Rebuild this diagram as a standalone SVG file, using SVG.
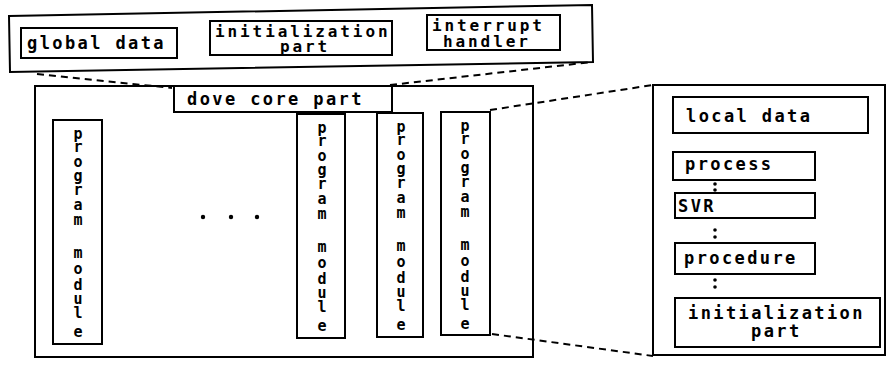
<svg xmlns="http://www.w3.org/2000/svg" width="888" height="369" viewBox="0 0 888 369">
<style>
.box{fill:none;stroke:#000;stroke-width:2}
.t{font-family:"DejaVu Sans Mono","Liberation Mono",monospace;font-weight:bold;font-size:17px;letter-spacing:2.4px;fill:#000}
.t2{font-family:"DejaVu Sans Mono","Liberation Mono",monospace;font-weight:bold;font-size:16px;letter-spacing:2.9px;fill:#000}
.v{font-family:"DejaVu Sans Mono","Liberation Mono",monospace;font-weight:bold;font-size:15px;fill:#000;text-anchor:middle}
.dash{fill:none;stroke:#000;stroke-width:2;stroke-dasharray:7 5}
</style>
<rect width="888" height="369" fill="#fff"/>
<g id="top-box">
<polygon class="box" points="9,16 592,5 593,62 10,72"/>
</g>
<g id="global-data">
<rect class="box" x="21" y="28" width="156" height="30"/>
<text class="t" x="27" y="49">global data</text>
</g>
<g id="initialization-part-top">
<rect class="box" x="210" y="21" width="182" height="34"/>
<text class="t2" x="215" y="37">initialization</text>
<text class="t2" x="280" y="52">part</text>
</g>
<g id="interrupt-handler">
<rect class="box" x="427" y="15" width="133" height="35"/>
<text class="t2" x="432" y="31">interrupt</text>
<text class="t2" x="443" y="47">handler</text>
</g>
<g id="main-box">
<rect class="box" x="35" y="86" width="498" height="271"/>
</g>
<g id="dove-core-part">
<rect class="box" x="174" y="86" width="218" height="26"/>
<text class="t" x="187" y="105">dove core part</text>
</g>
<g id="program-module-1">
<rect class="box" x="53" y="120" width="49" height="224"/>
<text class="v"><tspan x="78" y="139">p</tspan><tspan x="78" y="152">r</tspan><tspan x="78" y="167">o</tspan><tspan x="78" y="181">g</tspan><tspan x="78" y="195">r</tspan><tspan x="78" y="210">a</tspan><tspan x="78" y="225">m</tspan><tspan x="78" y="258">m</tspan><tspan x="78" y="274">o</tspan><tspan x="78" y="290">d</tspan><tspan x="78" y="304">u</tspan><tspan x="78" y="318">l</tspan><tspan x="78" y="337">e</tspan></text>
</g>
<g id="ellipsis">
<circle cx="203" cy="217" r="2.2"/>
<circle cx="231" cy="217" r="2.2"/>
<circle cx="257" cy="217" r="2.2"/>
</g>
<g id="program-module-2">
<rect class="box" x="297" y="114" width="48" height="224"/>
<text class="v"><tspan x="322" y="133">p</tspan><tspan x="322" y="146">r</tspan><tspan x="322" y="161">o</tspan><tspan x="322" y="175">g</tspan><tspan x="322" y="189">r</tspan><tspan x="322" y="204">a</tspan><tspan x="322" y="219">m</tspan><tspan x="322" y="252">m</tspan><tspan x="322" y="268">o</tspan><tspan x="322" y="284">d</tspan><tspan x="322" y="298">u</tspan><tspan x="322" y="312">l</tspan><tspan x="322" y="331">e</tspan></text>
</g>
<g id="program-module-3">
<rect class="box" x="377" y="113" width="46" height="224"/>
<text class="v"><tspan x="401" y="132">p</tspan><tspan x="401" y="145">r</tspan><tspan x="401" y="160">o</tspan><tspan x="401" y="174">g</tspan><tspan x="401" y="188">r</tspan><tspan x="401" y="203">a</tspan><tspan x="401" y="218">m</tspan><tspan x="401" y="251">m</tspan><tspan x="401" y="267">o</tspan><tspan x="401" y="283">d</tspan><tspan x="401" y="297">u</tspan><tspan x="401" y="311">l</tspan><tspan x="401" y="330">e</tspan></text>
</g>
<g id="program-module-4">
<rect class="box" x="441" y="112" width="49" height="223"/>
<text class="v"><tspan x="465" y="131">p</tspan><tspan x="465" y="144">r</tspan><tspan x="465" y="159">o</tspan><tspan x="465" y="173">g</tspan><tspan x="465" y="187">r</tspan><tspan x="465" y="202">a</tspan><tspan x="465" y="217">m</tspan><tspan x="465" y="250">m</tspan><tspan x="465" y="266">o</tspan><tspan x="465" y="282">d</tspan><tspan x="465" y="296">u</tspan><tspan x="465" y="310">l</tspan><tspan x="465" y="329">e</tspan></text>
</g>
<g id="module-detail">
<rect class="box" x="653" y="85" width="232" height="270"/>
</g>
<g id="local-data">
<rect class="box" x="673" y="97" width="195" height="36"/>
<text class="t" x="686" y="122">local data</text>
</g>
<g id="process">
<rect class="box" x="673" y="152" width="142" height="28"/>
<text class="t" x="685" y="170">process</text>
</g>
<g id="svr">
<rect class="box" x="675" y="193" width="140" height="25"/>
<text class="t" x="678" y="212">SVR</text>
</g>
<g id="procedure">
<rect class="box" x="675" y="243" width="140" height="31"/>
<text class="t" x="684" y="264">procedure</text>
</g>
<g id="initialization-part">
<rect class="box" x="675" y="298" width="205" height="49"/>
<text class="t" x="688" y="319">initialization</text>
<text class="t" x="751" y="337">part</text>
</g>
<g id="connectors">
<path class="dash" d="M37,74 L172,88"/>
<path class="dash" d="M390,85 L592,62"/>
<path class="dash" d="M490,110 L653,85"/>
<path class="dash" d="M492,334 L653,356"/>
<g class="colons">
<circle cx="715" cy="184" r="1.8"/><circle cx="715" cy="190" r="1.8"/>
<circle cx="715" cy="230" r="1.8"/><circle cx="715" cy="237" r="1.8"/>
<circle cx="715" cy="280" r="1.8"/><circle cx="715" cy="287" r="1.8"/>
</g>
</g>
</svg>
